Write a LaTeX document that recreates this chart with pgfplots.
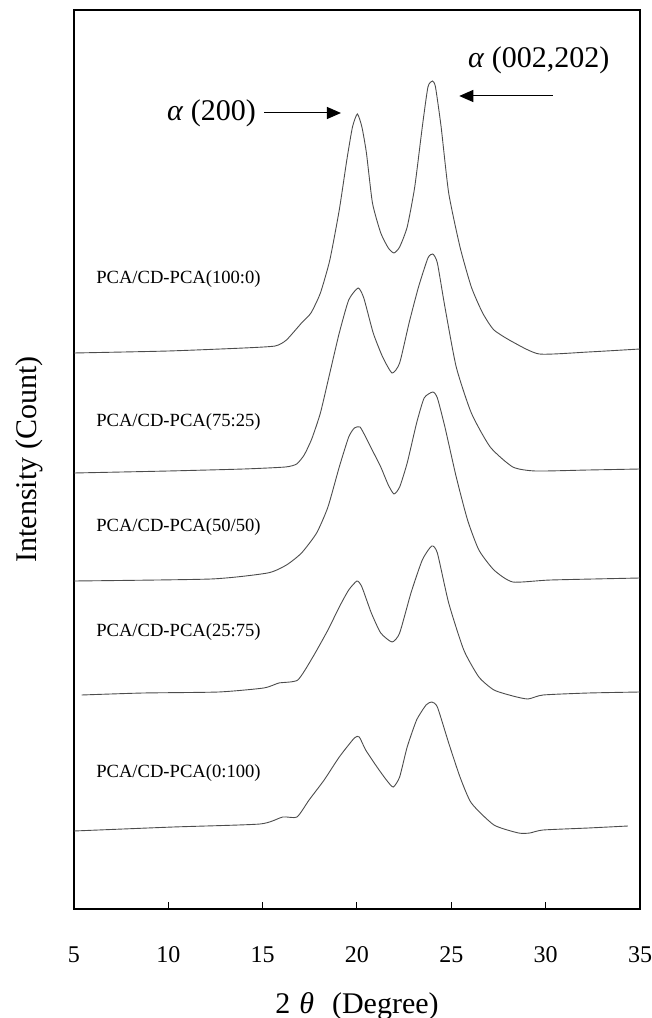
\documentclass[border=0pt]{standalone}
\usepackage{fontspec}
\setmainfont{Liberation Serif}
\usepackage{pgfplots}
\pgfplotsset{compat=1.18}
\usetikzlibrary{arrows.meta}
\pgfplotsset{xrd/.style={color=black!70, line width=0.45pt, smooth, tension=0.35, mark=none}}

\begin{document}
\begin{tikzpicture}
\begin{axis}[
  scale only axis,
  width=283pt, height=449.5pt,
  xmin=5, xmax=35, ymin=0, ymax=899,
  xtick={5,10,15,20,25,30,35},
  ytick=\empty,
  xtick pos=left,
  tick align=inside,
  major tick length=3.5pt,
  axis line style={line width=0.6pt},
  every tick/.style={line width=0.5pt, black},
  /pgf/number format/assume math mode=true,
  xticklabel style={font=\fontsize{12}{14}\selectfont, anchor=north, inner sep=0pt, yshift=-18.5pt},
  xlabel={2\hspace{0.3em}\textit{θ}\hspace{0.6em}(Degree)},
  xlabel style={at={(axis description cs:0.5,0)}, anchor=base, yshift=-52pt, inner sep=0pt, font=\fontsize{15}{18}\selectfont},
  ylabel={Intensity (Count)},
  ylabel style={at={(axis description cs:-0.1042,0.5)}, anchor=north, inner sep=0pt, font=\fontsize{15}{18}\selectfont},
  clip=false,
]
% PCA/CD-PCA(100:0)
\addplot[xrd] coordinates {
(5,556) (10,558) (14,561) (15.66,563) (16.26,569) (17.06,586) (17.56,596) (18.06,616) (18.56,649) (19.06,699) (19.46,749) (19.76,782) (20.02,795) (20.26,782) (20.5,756) (20.82,706) (21.26,676) (21.66,661) (21.96,656) (22.26,662) (22.66,682) (23.06,722) (23.46,782) (23.76,822) (24.0,828) (24.16,822) (24.46,782) (24.86,716) (25.46,662) (26.06,622) (26.66,596) (27.26,579) (28.26,567) (29.66,555) (32.26,557) (35,560)
};
% PCA/CD-PCA(75:25)
\addplot[xrd] coordinates {
(5,436) (10,438) (14,440) (16.2,442) (16.8,445) (17.2,454) (17.6,470) (18.06,496) (18.56,536) (19.06,576) (19.56,609) (20.06,621) (20.36,611) (20.86,576) (21.36,552) (21.86,536) (22.26,546) (22.76,586) (23.26,622) (23.76,651) (24.02,655) (24.26,646) (24.66,602) (25.26,542) (26.06,496) (27.06,462) (28.26,442) (29.46,438) (32.26,439) (35,440)
};
% PCA/CD-PCA(50/50)
\addplot[xrd] coordinates {
(5,328) (12.26,330) (15.26,336) (16.26,344) (17.06,356) (17.86,376) (18.46,402) (19.06,442) (19.56,472) (19.86,481) (20.16,482) (20.46,472) (20.86,457) (21.26,442) (21.66,424) (21.96,415) (22.26,422) (22.66,446) (23.16,486) (23.56,511) (24.02,517) (24.26,511) (24.66,482) (25.26,432) (25.86,389) (26.46,359) (27.26,339) (28.26,327) (30.26,329) (35,331)
};
% PCA/CD-PCA(25:75)
\addplot[xrd] coordinates {
(5.4,214) (8.66,216) (12.66,217) (15.06,221) (15.86,226) (16.86,229) (17.66,252) (18.46,279) (19.06,302) (19.56,319) (20.0,328) (20.26,322) (20.76,296) (21.26,276) (21.86,267) (22.26,276) (22.86,316) (23.46,349) (23.96,363) (24.26,356) (24.86,306) (25.66,259) (26.46,232) (27.26,219) (28.26,213) (29.06,210) (29.86,214) (32.26,216) (35,217)
};
% PCA/CD-PCA(0:100)
\addplot[xrd] coordinates {
(5,78) (10.26,82) (14.86,85) (16.06,92) (16.82,92) (17.46,109) (18.26,129) (19.06,152) (19.86,171) (20.12,172) (20.46,159) (21.06,142) (21.56,129) (21.92,122) (22.26,132) (22.66,162) (23.16,189) (23.66,204) (23.96,207) (24.26,202) (24.86,166) (25.46,132) (26.06,106) (27.26,84) (28.56,76) (29.16,76) (29.86,79) (32.26,81) (34.36,83)
};
\begin{scope}[every node/.style={anchor=west, inner sep=0pt, font=\fontsize{9.3}{11}\selectfont}]
\node at (axis cs:6.16,630) {PCA/CD-PCA(100:0)};
\node at (axis cs:6.16,487) {PCA/CD-PCA(75:25)};
\node at (axis cs:6.16,382) {PCA/CD-PCA(50/50)};
\node at (axis cs:6.16,277) {PCA/CD-PCA(25:75)};
\node at (axis cs:6.16,136) {PCA/CD-PCA(0:100)};
\end{scope}
\node[anchor=west, inner sep=0pt, font=\fontsize{15}{18}\selectfont] at (axis cs:9.91,796) {\textit{α} (200)};
\node[anchor=west, inner sep=0pt, font=\fontsize{15}{18}\selectfont] at (axis cs:25.87,849) {\textit{α} (002,202)};
\draw[line width=0.5pt, -{Triangle[length=7pt,width=6pt]}] (axis cs:15.08,796) -- (axis cs:19.15,796);
\draw[line width=0.5pt, -{Triangle[length=7pt,width=6pt]}] (axis cs:30.38,813) -- (axis cs:25.42,813);
\end{axis}
\pgfresetboundingbox
\path[use as bounding box] ([xshift=-37pt,yshift=-54.5pt]current axis.south west) rectangle ([xshift=6pt,yshift=5pt]current axis.north east);
\end{tikzpicture}
\end{document}
